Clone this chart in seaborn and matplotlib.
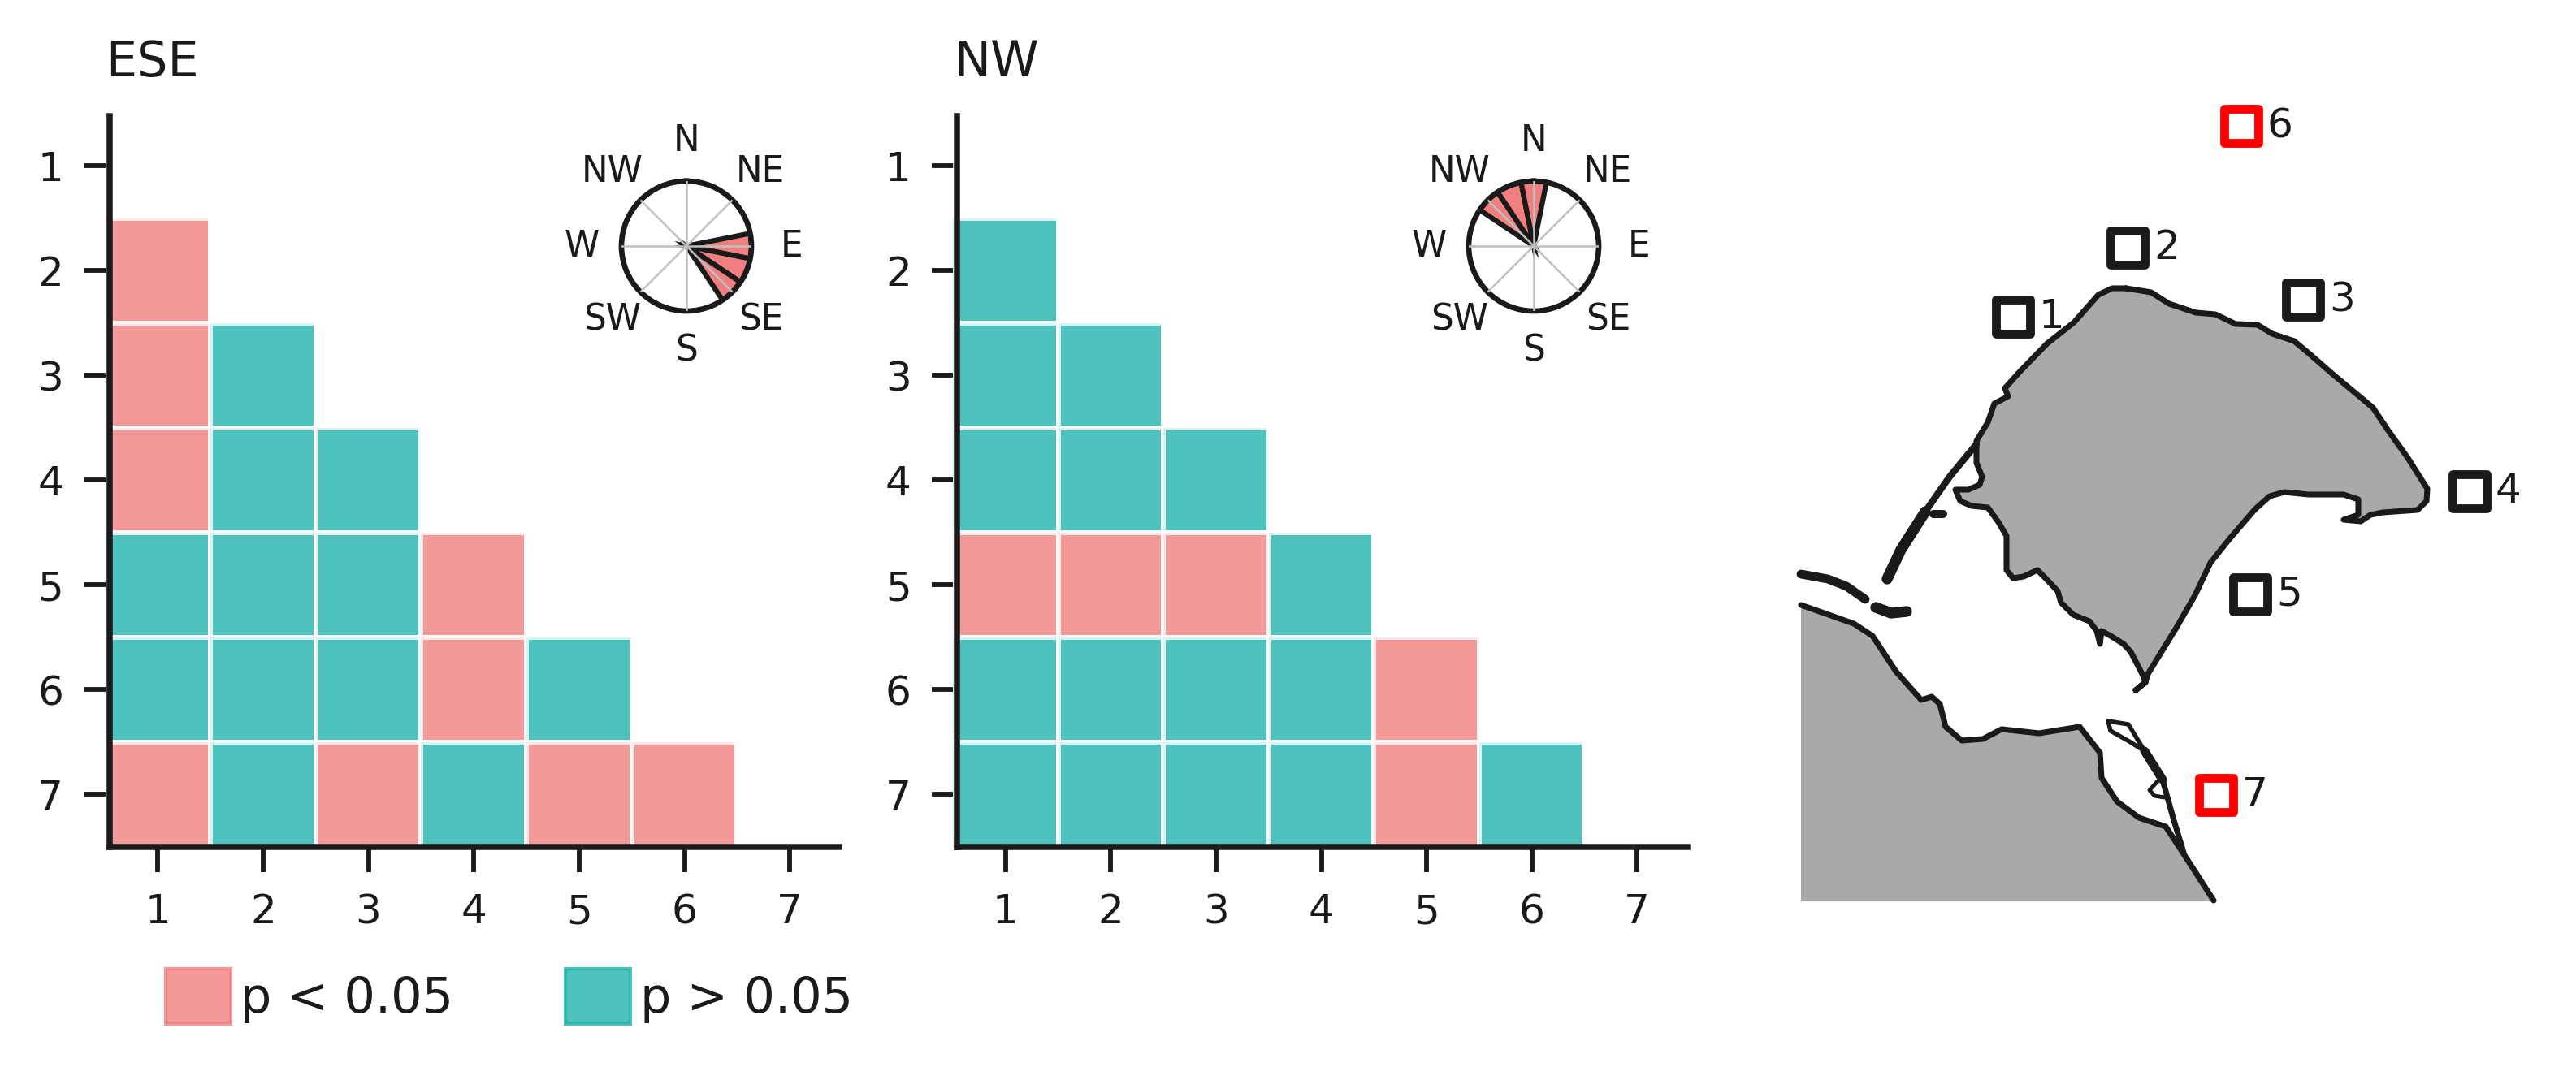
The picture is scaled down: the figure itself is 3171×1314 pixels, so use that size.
import numpy as np
import pandas as pd
import matplotlib
matplotlib.use("Agg")
import matplotlib.pyplot as plt
from matplotlib.colors import ListedColormap
from matplotlib.patches import Patch
import seaborn as sns

# stations along both axes
stations = [1, 2, 3, 4, 5, 6, 7]

# 1 = p < 0.05, 0 = p > 0.05, nan = no comparison
n = np.nan
ese_matrix = [
    [n, n, n, n, n, n, n],
    [1, n, n, n, n, n, n],
    [1, 0, n, n, n, n, n],
    [1, 0, 0, n, n, n, n],
    [0, 0, 0, 1, n, n, n],
    [0, 0, 0, 1, 0, n, n],
    [1, 0, 1, 0, 1, 1, n],
]
nw_matrix = [
    [n, n, n, n, n, n, n],
    [0, n, n, n, n, n, n],
    [0, 0, n, n, n, n, n],
    [0, 0, 0, n, n, n, n],
    [1, 1, 1, 0, n, n, n],
    [0, 0, 0, 0, 1, n, n],
    [0, 0, 0, 0, 1, 0, n],
]

# wind sectors, bearing of the middle of each sector
ese_sectors = [90, 112.5, 135]
nw_sectors = [315, 337.5, 0]
sector_width = 22.5
compass_labels = ['N', 'NE', 'E', 'SE', 'S', 'SW', 'W', 'NW']
compass_bearings = [0, 45, 90, 135, 180, 225, 270, 315]

# map, traced in image coordinates
island_x = [2617, 2648, 2670, 2703, 2727, 2752, 2779, 2797, 2824, 2842, 2873, 2921, 2939, 2964,
            2988, 2987, 2976, 2933, 2918, 2906, 2885, 2903, 2903, 2885, 2842, 2812, 2794, 2776,
            2745, 2721, 2702, 2679, 2644, 2641, 2629, 2641, 2637, 2623, 2614, 2598, 2587, 2585,
            2581, 2572, 2552, 2537, 2533, 2518, 2508, 2491, 2478, 2470, 2470, 2460, 2447, 2427,
            2413, 2407, 2423, 2437, 2440, 2433, 2433, 2447, 2455, 2472, 2468, 2487, 2520, 2553,
            2583, 2600]
island_y = [355, 360, 374, 385, 387, 399, 400, 411, 420, 435, 462, 502, 529, 564,
            602, 617, 628, 631, 634, 642, 640, 634, 615, 609, 609, 606, 611, 627,
            663, 693, 733, 773, 830, 840, 850, 840, 830, 803, 793, 783, 777, 793,
            777, 765, 757, 742, 728, 712, 702, 710, 712, 702, 660, 643, 625, 623,
            617, 603, 603, 597, 587, 570, 543, 520, 497, 488, 478, 457, 423, 397,
            363, 355]
mainland_x = [2217, 2282, 2305, 2334, 2365, 2378, 2388, 2395, 2415, 2441, 2464, 2510, 2560,
              2585, 2587, 2606, 2633, 2666, 2687, 2725]
mainland_y = [745, 768, 783, 827, 862, 858, 867, 895, 912, 910, 898, 903, 895,
              927, 958, 987, 1007, 1018, 1050, 1109]
map_corner_x = [2725, 2217]
map_corner_y = [1109, 1109]
sliver_x = [2595, 2620, 2640, 2621, 2598, 2595]
sliver_y = [888, 892, 925, 913, 900, 888]
spit_x = [2640, 2662]
spit_y = [925, 960]
spit_tail_x = [2662, 2675, 2688]
spit_tail_y = [960, 1007, 1050]
loop_x = [2656, 2646, 2652, 2664]
loop_y = [962, 973, 980, 982]
bar_upper_x = [2433, 2400, 2370]
bar_upper_y = [547, 587, 630]
bar_lower_x = [2370, 2340, 2323]
bar_lower_y = [630, 677, 713]
nub_x = [2380, 2392]
nub_y = [633, 633]
shoal_a_x = [2217, 2250, 2273, 2296]
shoal_a_y = [707, 713, 722, 738]
shoal_b_x = [2309, 2328, 2347]
shoal_b_y = [748, 755, 753]

site_x = [2478, 2619, 2835, 3040, 2770, 2759, 2728]
site_y = [390, 305, 369, 605, 732, 155, 979]
site_colors = ['k', 'k', 'k', 'k', 'k', 'red', 'red']

W, H = 3171, 1314
DPI = 300


def rect(left, top, right, bottom):
    # pixel box of the reference to figure fractions
    return [left / W, 1 - bottom / H, (right - left) / W, (bottom - top) / H]


sns.set_theme(style='ticks', rc={
    'font.family': 'DejaVu Sans',
    'axes.linewidth': 1.8,
    'xtick.major.size': 7.5, 'ytick.major.size': 7.5,
    'xtick.major.width': 1.4, 'ytick.major.width': 1.4,
    'xtick.major.pad': 6, 'ytick.major.pad': 6,
    'xtick.labelsize': 12, 'ytick.labelsize': 12,
    'axes.edgecolor': 'k', 'xtick.color': 'k', 'ytick.color': 'k', 'text.color': 'k',
})

fig = plt.figure(figsize=(W / DPI, H / DPI), dpi=DPI)
cmap = ListedColormap(['lightseagreen', 'lightcoral'])


def plot_matrix(box, matrix, title):
    ax = fig.add_axes(rect(*box))
    df = pd.DataFrame(matrix, index=stations, columns=stations)
    sns.heatmap(df, ax=ax, cmap=cmap, vmin=0, vmax=1, alpha=0.8, cbar=False,
                linewidths=1.4, linecolor='white')
    sns.despine(ax=ax)
    ax.spines['left'].set_visible(True)
    ax.spines['bottom'].set_visible(True)
    ax.spines['left'].set_position(('outward', -1.2))
    ax.spines['bottom'].set_bounds(0.039, 6.973)
    ax.spines['left'].set_bounds(0.03, 7)
    ax.tick_params(axis='y', rotation=0)
    ax.set_title(title, loc='left', fontsize=14.5, pad=11, x=0.001)
    return ax


def plot_compass(center, sectors):
    r = 80
    cx, cy = center
    ax = fig.add_axes(rect(cx - r, cy - r, cx + r, cy + r), projection='polar')
    ax.set_theta_zero_location('N')
    ax.set_theta_direction(-1)
    ax.bar(np.deg2rad(sectors), [1] * len(sectors), width=np.deg2rad(sector_width),
           color='lightcoral', edgecolor='k', linewidth=1.5)
    ax.set_ylim(0, 1)
    ax.set_yticks([])
    ax.set_xticks(np.deg2rad(compass_bearings))
    ax.set_xticklabels(compass_labels, fontsize=10.5)
    ax.tick_params(axis='x', pad=4.8, length=0)
    ax.grid(True, color='silver', linewidth=0.6)
    ax.set_axisbelow(False)
    ax.spines['polar'].set_linewidth(1.6)
    return ax


ax1 = plot_matrix((129.5, 139.5, 1037, 1043), ese_matrix, 'ESE')
ax2 = plot_matrix((1173, 139.5, 2080, 1043), nw_matrix, 'NW')
plot_compass((845, 303), ese_sectors)
plot_compass((1888, 303), nw_sectors)

# map panel
ax3 = fig.add_axes(rect(2200, 0, W, H))
ax3.set_xlim(2200, W)
ax3.set_ylim(H, 0)
ax3.axis('off')
coast_lw = 1.7
ax3.fill(island_x, island_y, color='darkgray', lw=0)
ax3.plot(island_x + island_x[:1], island_y + island_y[:1], color='k', lw=coast_lw)
ax3.fill(mainland_x + map_corner_x, mainland_y + map_corner_y, color='darkgray', lw=0)
ax3.plot(mainland_x, mainland_y, color='k', lw=coast_lw)
ax3.plot(sliver_x, sliver_y, color='k', lw=1.3)
ax3.plot(spit_x, spit_y, color='k', lw=2.6, solid_capstyle='round')
ax3.plot(spit_tail_x, spit_tail_y, color='k', lw=1.7)
ax3.plot(loop_x, loop_y, color='k', lw=1.2)
ax3.plot(bar_upper_x, bar_upper_y, color='k', lw=2.0, solid_capstyle='round')
ax3.plot(bar_lower_x, bar_lower_y, color='k', lw=3.2, solid_capstyle='round')
ax3.plot(nub_x, nub_y, color='k', lw=2.4, solid_capstyle='round')
ax3.plot(shoal_a_x, shoal_a_y, color='k', lw=2.6, solid_capstyle='round')
ax3.plot(shoal_b_x, shoal_b_y, color='k', lw=3.2, solid_capstyle='round')
ax3.scatter(site_x, site_y, marker='s', s=105, facecolors='none', edgecolors=site_colors,
            linewidths=2.6, zorder=5)
for i, x in enumerate(site_x):
    ax3.text(x + 32, site_y[i], str(stations[i]), fontsize=12, ha='left', va='center')

# legend below the matrices
handles = [Patch(facecolor='lightcoral', edgecolor='lightcoral', alpha=0.8, label='p < 0.05'),
           Patch(facecolor='lightseagreen', edgecolor='lightseagreen', alpha=0.8, label='p > 0.05')]
fig.legend(handles=handles, loc='upper left', bbox_to_anchor=(204 / W, 1 - 1193 / H), ncol=2,
           frameon=False, fontsize=14.5, handlelength=1.33, handleheight=1.36, handletextpad=0.2,
           columnspacing=2.27, borderpad=0, borderaxespad=0)

fig.savefig('out.png', dpi=DPI, facecolor='white')
